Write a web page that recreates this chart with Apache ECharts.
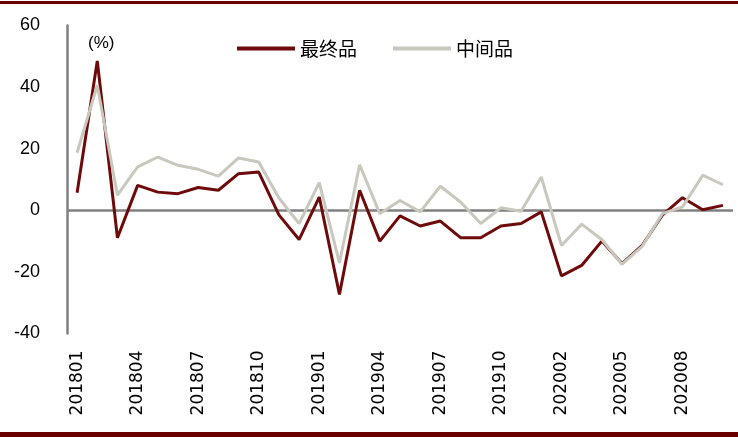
<!DOCTYPE html>
<html>
<head>
<meta charset="utf-8">
<script src="https://cdn.jsdelivr.net/npm/echarts@6/dist/echarts.min.js"></script>
<style>html,body{margin:0;padding:0;background:#fff;}#c{width:738px;height:437px;}</style>
</head>
<body>
<div id="c"></div>
<script>
var categories = ['201801','201802','201803','201804','201805','201806','201807','201808','201809','201810','201811','201812',
  '201901','201902','201903','201904','201905','201906','201907','201908','201909','201910','201911','201912',
  '202002','202003','202004','202005','202006','202007','202008','202009','202010'];
var finalGoods = [5.7,48.5,-8.9,8.1,5.9,5.4,7.4,6.5,11.9,12.4,-1.5,-9.5,
  4.3,-27.3,6.5,-10.0,-1.8,-5.1,-3.5,-8.9,-8.9,-5.1,-4.3,-0.5,
  -21.3,-17.9,-10.0,-17.3,-11.4,-1.6,4.1,0.2,1.6];
var intermediateGoods = [18.7,40.6,4.9,14.1,17.3,14.6,13.3,11.1,17.0,15.7,4.0,-4.3,
  9.0,-17.1,14.8,-1.1,3.2,-0.5,7.8,2.7,-4.3,0.8,-0.3,10.8,
  -11.4,-4.5,-9.5,-17.5,-11.7,-1.1,1.1,11.4,8.3];
var yTicks = [-40,-20,0,20,40,60];

var chart = echarts.init(document.getElementById('c'));
chart.setOption({
  animation: false,
  backgroundColor: '#fff',
  grid: {left: 67, right: 5, top: 25.5, bottom: 103.5, containLabel: false},
  legend: {
    left: 237, top: 39, padding: 0,
    itemWidth: 58, itemHeight: 4, itemGap: 36,
    icon: 'rect',
    textStyle: {fontFamily: 'Noto Sans CJK SC', fontSize: 19, color: '#000'},
    data: ['最终品','中间品']
  },
  xAxis: {
    type: 'category',
    data: categories,
    boundaryGap: true,
    axisLine: {show: false, onZero: false},
    axisTick: {show: false},
    axisLabel: {interval: 2, rotate: 90, margin: 17, fontFamily: 'DejaVu Sans', fontSize: 17, color: '#000'},
    splitLine: {show: false}
  },
  yAxis: {
    type: 'value',
    min: yTicks[0], max: yTicks[yTicks.length-1], interval: 20,
    axisLine: {show: true, lineStyle: {color: '#808080', width: 2.5}},
    axisTick: {show: false},
    splitLine: {show: false},
    axisLabel: {margin: 27, fontFamily: 'Liberation Sans', fontSize: 18, color: '#000'}
  },
  series: [
    {
      name: '最终品', type: 'line', data: finalGoods, symbol: 'none',
      lineStyle: {color: '#6E0A0A', width: 3}, itemStyle: {color: '#6E0A0A'},
      markLine: {silent: true, symbol: 'none', label: {show: false},
        lineStyle: {color: '#808080', width: 2.5, type: 'solid'}, data: [{yAxis: 0}], z: 1}
    },
    {
      name: '中间品', type: 'line', data: intermediateGoods, symbol: 'none',
      lineStyle: {color: '#C8C8BE', width: 3}, itemStyle: {color: '#C8C8BE'}
    }
  ],
  graphic: [
    {type: 'text', left: 88, top: 35, style: {text: '(%)', font: '17px "Liberation Sans"', fill: '#000'}},
    {type: 'rect', left: 0, top: 1, shape: {width: 738, height: 3}, style: {fill: '#6B0000'}},
    {type: 'rect', left: 0, top: 432, shape: {width: 738, height: 5}, style: {fill: '#6B0000'}}
  ]
});
</script>
</body>
</html>
